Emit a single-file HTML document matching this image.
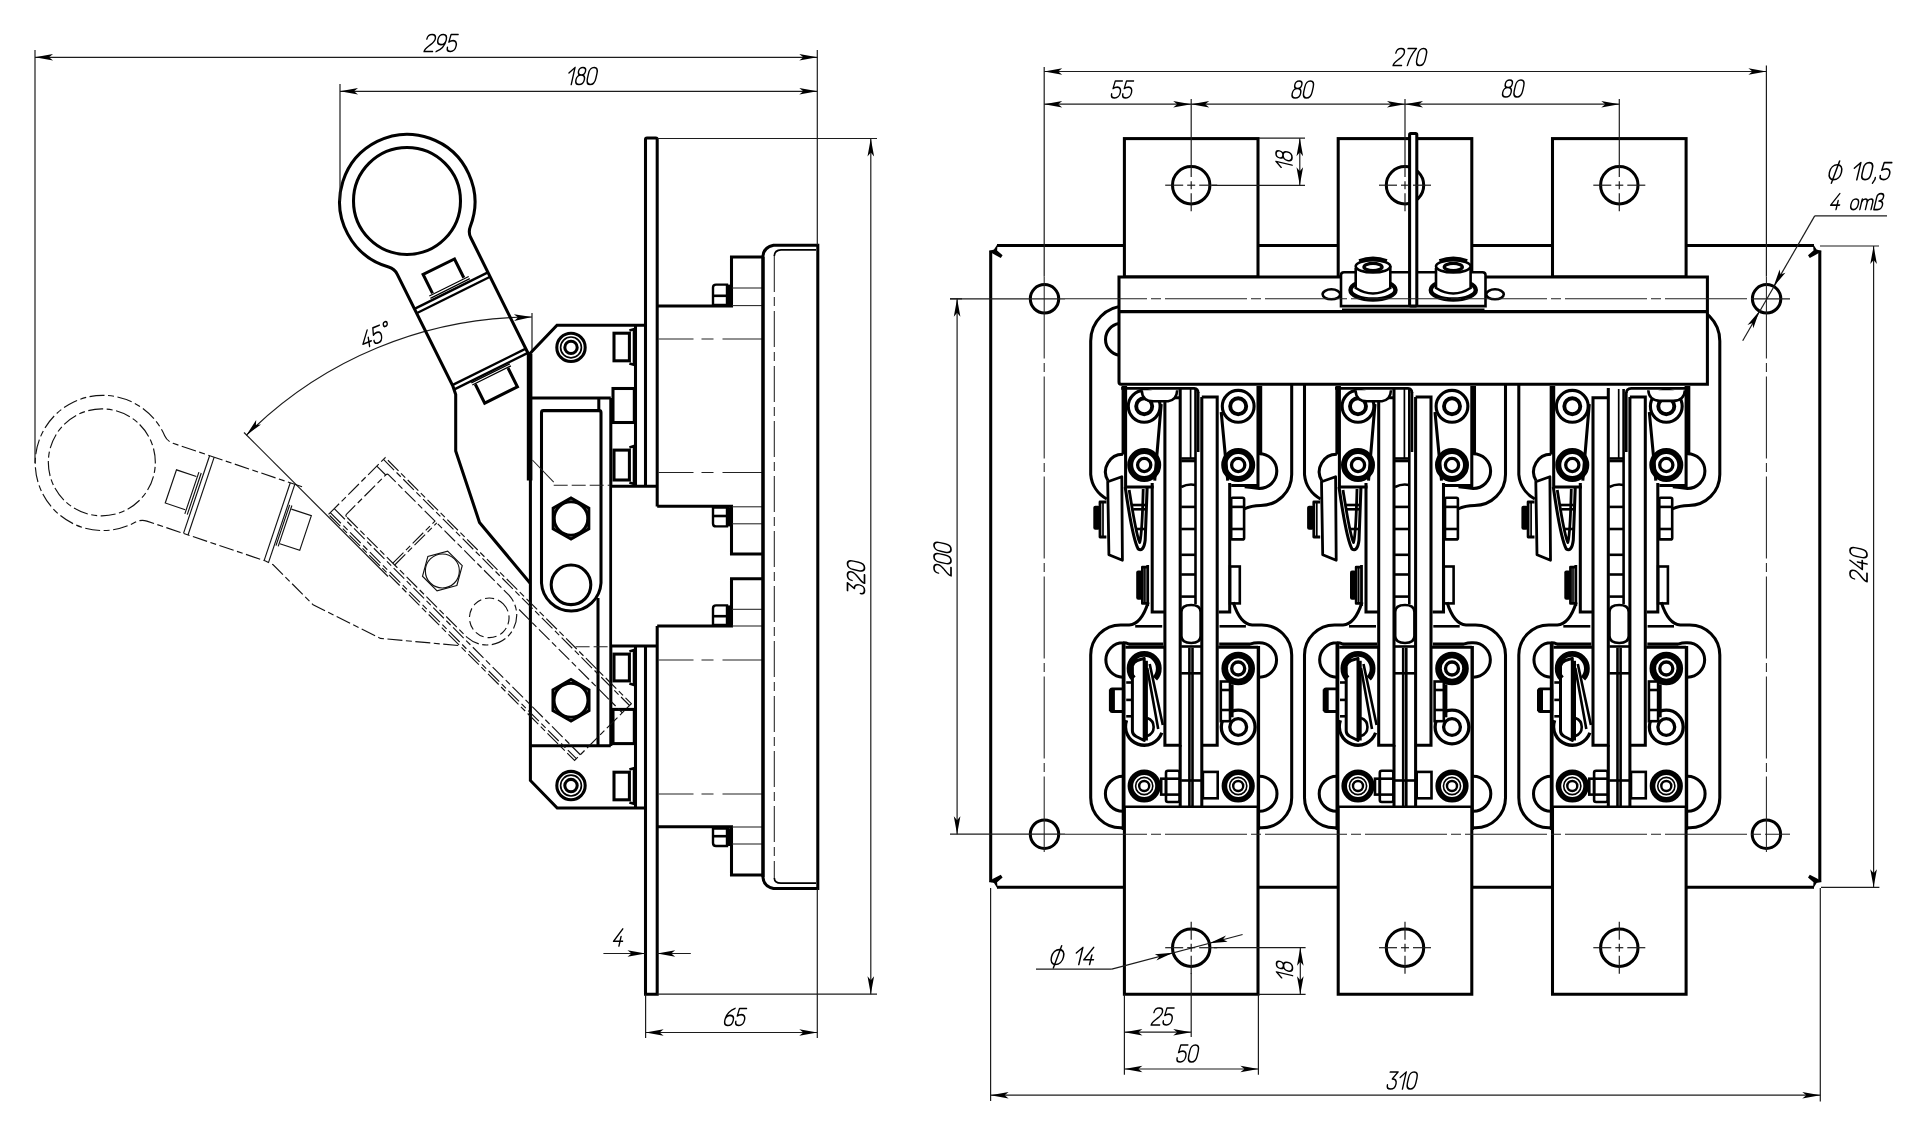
<!DOCTYPE html><html><head><meta charset="utf-8"><title>drawing</title><style>
html,body{margin:0;padding:0;background:#fff}body{width:1920px;height:1139px;font-family:"Liberation Sans",sans-serif}svg{display:block}.k{fill:none;stroke:#000;stroke-width:3.05;stroke-linejoin:miter;stroke-linecap:butt}.kf{fill:#fff;stroke:#000;stroke-width:3.05}.kk{fill:none;stroke:#000;stroke-width:6}.kkf{fill:#fff;stroke:#000;stroke-width:4.4}.kk2{fill:none;stroke:#000;stroke-width:3.4}.k2{fill:none;stroke:#000;stroke-width:2.8;stroke-linejoin:round}.k2f{fill:#fff;stroke:#000;stroke-width:2.6}.m{fill:none;stroke:#000;stroke-width:2.6}.m2{fill:none;stroke:#000;stroke-width:1.7}.k3{fill:none;stroke:#000;stroke-width:3.4;stroke-linejoin:round}.n{fill:none;stroke:#1c1c1c;stroke-width:1.2}.c{fill:none;stroke:#222;stroke-width:1.05}.a{fill:#000;stroke:none}.kf2{fill:#fff;stroke:#000;stroke-width:2.6}.wf{fill:#fff;stroke:none}.wf2{fill:#fff;stroke:none}.t{fill:none;stroke:#000;stroke-linecap:round;stroke-linejoin:round}.ph{fill:none;stroke:#111;stroke-width:1.15;stroke-dasharray:15 3.5 6 3.5}.w,.bh,.bd{stroke-dasharray:none}.w{stroke-width:var(--ww)}.bd{stroke-width:var(--bdw)}.ph{--ww:1.15;--bdw:1.15}.k{--ww:1.3;--bdw:2.3}.phs{fill:none;stroke:#111;stroke-width:1.15;stroke-dasharray:none}.ph2{fill:none;stroke:#111;stroke-width:1.15;stroke-dasharray:9 4}#pole path,#pole circle,#pole rect{}</style></head><body>
<svg width="1920" height="1139" viewBox="0 0 1920 1139">
<rect x="0" y="0" width="1920" height="1139" fill="#fff"/>
<defs><g id="mv">
<path d="M531.3 359.8L470.8 237.8A14 14 0 0 1 470.3 226.5A67.6 67.6 0 1 0 388.6 267A14 14 0 0 1 397.3 274.3L453 386.4L455.7 394.5L455.7 451L479.5 522.4L530 583"/>
<circle cx="407" cy="200.9" r="53.5"/>
<path class="bd" d="M414.5 308.9L487.9 272.4"/>
<path class="bd" d="M416.6 313.2L490.1 276.7"/>
<path class="bd" d="M452.3 385.1L525.8 348.6"/>
<path class="bd" d="M454.4 389.4L527.9 352.9"/>
<path class="bh" d="M432.5 293.4L423.1 274.5L454.5 259L463.8 277.8"/>
<path class="w" d="M429.3 296L468.7 276.5M430.4 298.3L469.8 278.7"/>
<path class="bh" d="M475.3 384.3L484.7 403.1L517.4 386.8L508 368"/>
<path class="w" d="M471.3 382.9L509.8 363.8M472.3 385L510.9 365.8"/>
</g>
<g id="mv2">
<path d="M530.5 398L610.8 398L610.8 746L530.5 746Z"/>
<path d="M541.5 412.5Q541.5 410.6 543.5 410.6L599 410.6Q601 410.6 601 412.5L601 583A29.8 29.8 0 0 1 541.5 583Z"/>
<path d="M598 600L598 746M598.8 398L598.8 410.6M608.2 398L608.2 746M533 398L533 746M538.6 398L538.6 746"/>
<path d="M541.5 478L601 478M541.5 480.6L601 480.6"/>
</g></defs>
<path class="n" d="M532 317A404 404 0 0 0 246.3 435.3"/>
<path class="a" d="M532 317L514.1 320.9L518 317.5L513.9 314.3Z"/>
<path class="a" d="M246.3 435.3L256.2 419.9L255.9 425.1L261 424.4Z"/>
<path class="n" d="M532 313L532 356"/>
<path class="n" d="M244 432.5L388 576.5"/>
<g class="t"  stroke-width="1" transform="translate(373 345) rotate(-22) scale(1.4 1.6) skewX(-15) translate(0 -10)"><path d="M4.6 0L0 7.2L6.4 7.2" transform="translate(-7.2 0)"/><path d="M4.6 4.4L4.6 10" transform="translate(-7.2 0)"/><path d="M5.6 0L0.6 0L0.2 4.4C1 3.8 2 3.6 3 3.6C4.8 3.6 6 4.9 6 6.8C6 8.7 4.8 10 3 10C1.2 10 0 9 0 7.6" transform="translate(1.2 0)"/></g>
<g class="t"  stroke-width="1" transform="translate(387.4 338) rotate(-22) scale(1.4 1.6) skewX(-15) translate(0 -10)"><path d="M1.5 0C.6 0 0 .6 0 1.4C0 2.2 .6 2.8 1.5 2.8C2.4 2.8 3 2.2 3 1.4C3 .6 2.4 0 1.5 0Z" transform="translate(-1.5 0)"/></g>
<g class="k"><use href="#mv"/></g>
<path class="wf" d="M529.5 354L557 325.3L644.6 325.3L644.6 808L557.2 808L530.4 780.5L530.4 354Z"/>
<path class="k" d="M644.6 325.3L557 325.3L529.5 354M530.4 354L530.4 780.5L557.2 808L644.6 808"/>
<path class="k" d="M529.6 353.7L529.6 480.5" style="stroke-width:5.6"/>
<path class="k" d="M532 398L610.8 398"/>
<path class="k" d="M610.8 398L610.8 746"/>
<path class="k" d="M530.4 745.8L610.8 745.8"/>
<path class="k" d="M541.5 412.5Q541.5 410.6 543.5 410.6L599 410.6Q601 410.6 601 412.5L601 583A29.8 29.8 0 0 1 541.5 583Z"/>
<path class="k" d="M598.8 398L598.8 410.6"/>
<path class="k" d="M598 598L598 745.8"/>
<circle class="k" cx="571" cy="347.4" r="14.2"/>
<circle class="m2" cx="571" cy="347.4" r="10.4"/>
<circle class="k" cx="571" cy="347.4" r="6.2"/>
<circle class="k" cx="571" cy="785.6" r="14.2"/>
<circle class="m2" cx="571" cy="785.6" r="10.4"/>
<circle class="k" cx="571" cy="785.6" r="6.2"/>
<path class="k" d="M571 539L553.2 528.8L553.2 508.2L571 498L588.8 508.2L588.8 528.8Z"/>
<circle class="k" cx="571" cy="518.5" r="16.8"/>
<circle class="k" cx="571" cy="584.8" r="19.8"/>
<path class="k" d="M571 721L553 710.6L553 689.8L571 679.4L589 689.8L589 710.6Z"/>
<circle class="k" cx="571" cy="700.2" r="17"/>
<path class="c" d="M532.4 460L553.7 482.1"/>
<path class="c" d="M553.7 485.3L610 485.3" stroke-dasharray="14 4"/>
<path class="c" d="M575.6 646.7L610 646.7" stroke-dasharray="14 4"/>
<rect class="wf" x="612.2" y="486.3" width="43.8" height="159.7"/>
<path class="k" d="M635.5 325.3L635.5 486.3"/>
<path class="k" d="M635.5 646L635.5 808"/>
<path class="k" d="M610.8 486.3L656.5 486.3"/>
<path class="k" d="M610.8 646L656.5 646"/>
<rect class="k" x="614" y="333.2" width="15.4" height="27.6"/>
<path class="m" d="M629.4 330.6L634 329.2L634 364.8L629.4 363.4"/>
<rect class="k" x="614" y="450.1" width="15.4" height="29.9"/>
<path class="m" d="M629.4 447.5L634 446.1L634 484L629.4 482.6"/>
<rect class="k" x="614" y="654.1" width="15.4" height="26.8"/>
<path class="m" d="M629.4 651.5L634 650.1L634 684.9L629.4 683.5"/>
<rect class="k" x="614" y="772.2" width="15.4" height="27.6"/>
<path class="m" d="M629.4 769.6L634 768.2L634 803.8L629.4 802.4"/>
<rect class="k" x="613" y="388.5" width="21.3" height="34"/>
<rect class="k" x="613" y="709.4" width="21.3" height="34.2"/>
<path class="k" d="M645.5 486.3L645.5 139.5Q645.5 138 647 138L655.7 138Q657.2 138 657.2 139.5L657.2 506.5"/>
<path class="k" d="M645.5 646L645.5 994.2L657.2 994.2L657.2 626"/>
<path class="k" d="M657.2 306L731.5 306L731.5 257L763 257"/>
<path class="k" d="M657.2 506.3L731.5 506.3L731.5 554L763 554"/>
<path class="k" d="M763 578.8L731.5 578.8L731.5 626L657.2 626"/>
<path class="k" d="M657.2 826.8L731.5 826.8L731.5 875L763 875"/>
<path class="c" d="M732 288L762.5 288"/>
<path class="c" d="M732 305.6L762.5 305.6"/>
<path class="c" d="M732 506.8L762.5 506.8"/>
<path class="c" d="M732 523.8L762.5 523.8"/>
<path class="c" d="M732 609.3L762.5 609.3"/>
<path class="c" d="M732 626L762.5 626"/>
<path class="c" d="M732 827L762.5 827"/>
<path class="c" d="M732 844L762.5 844"/>
<path class="k" d="M729.5 305L713 305L713 287.6Q713 284.6 716 284.6L727 284.6L727 305" style="stroke-width:2.4"/>
<path class="m" d="M713 295.8L727 295.8"/>
<path class="k" d="M729.3 284.6L729.3 305"/>
<path class="k" d="M729.5 507.5L713 507.5L713 523.4Q713 526.4 716 526.4L727 526.4L727 507.5" style="stroke-width:2.4"/>
<path class="m" d="M713 516L727 516"/>
<path class="k" d="M729.3 507.5L729.3 526.4"/>
<path class="k" d="M729.5 625L713 625L713 608.4Q713 605.4 716 605.4L727 605.4L727 625" style="stroke-width:2.4"/>
<path class="m" d="M713 616.2L727 616.2"/>
<path class="k" d="M729.3 605.4L729.3 625"/>
<path class="k" d="M729.5 828.5L713 828.5L713 843Q713 846 716 846L727 846L727 828.5" style="stroke-width:2.4"/>
<path class="m" d="M713 836.2L727 836.2"/>
<path class="k" d="M729.3 828.5L729.3 846"/>
<path class="c" d="M658.5 339L762 339" stroke-dasharray="35 8 12 9 60 0"/>
<path class="c" d="M658.5 472.4L762 472.4" stroke-dasharray="35 8 12 9 60 0"/>
<path class="c" d="M658.5 660L762 660" stroke-dasharray="35 8 12 9 60 0"/>
<path class="c" d="M658.5 794L762 794" stroke-dasharray="35 8 12 9 60 0"/>
<path class="k" d="M763 256Q763.5 247.5 773.5 245.2L817.8 245.2L817.8 888.5L773.5 888.5Q763.5 886 763 877.5Z"/>
<path class="m2" d="M774.3 256Q774.5 250 781 249.8L816 249.8"/>
<path class="m2" d="M774.3 878Q774.5 883.2 781 883.2L816 883.2"/>
<path class="c" d="M774.3 256L774.3 878" stroke-dasharray="36 5 9 5"/>
<path class="k" d="M763 257L763 877"/>
<g class="ph" transform="rotate(-45 570 700)"><use href="#mv"/><use href="#mv2"/>
<path class="phs" d="M571 539L553.2 528.8L553.2 508.2L571 498L588.8 508.2L588.8 528.8Z"/>
<circle class="phs" cx="571" cy="518.5" r="17"/>
<circle class="ph2" cx="571" cy="584.8" r="19.8"/>
</g>
<path class="n" d="M35 50L35 463"/>
<path class="n" d="M817.3 50L817.3 245"/>
<path class="n" d="M35 57.3L817.3 57.3"/>
<path class="a" d="M35 57.3L53 54L49 57.3L53 60.6Z"/>
<path class="a" d="M817.3 57.3L799.3 60.6L803.3 57.3L799.3 54Z"/>
<g class="t"  stroke-width="1" transform="translate(439.5 51.5) rotate(0) scale(1.4 1.7) skewX(-15) translate(0 -10)"><path d="M0 2.6C0 1 1.2 0 3 0C4.8 0 6 1 6 2.6C6 4.2 4.5 5.2 3 6.4C1.2 7.8 0 8.6 0 10L6 10" transform="translate(-11 0)"/><path d="M.6 10C4 8.8 6 6.4 6 3.2C6 1.2 4.8 0 3 0C1.2 0 0 1.2 0 3C0 4.8 1.2 6 3 6C4.6 6 5.8 5 6 3.4" transform="translate(-3 0)"/><path d="M5.6 0L0.6 0L0.2 4.4C1 3.8 2 3.6 3 3.6C4.8 3.6 6 4.9 6 6.8C6 8.7 4.8 10 3 10C1.2 10 0 9 0 7.6" transform="translate(5 0)"/></g>
<path class="n" d="M340 84L340 201"/>
<path class="n" d="M340 91.3L817.3 91.3"/>
<path class="a" d="M340 91.3L358 88L354 91.3L358 94.6Z"/>
<path class="a" d="M817.3 91.3L799.3 94.6L803.3 91.3L799.3 88Z"/>
<g class="t"  stroke-width="1" transform="translate(580.5 84.5) rotate(0) scale(1.4 1.7) skewX(-15) translate(0 -10)"><path d="M0 3.2L3.4 0L3.4 10" transform="translate(-10 0)"/><path d="M3 4.4C1.4 4.4 .5 3.4 .5 2.2C.5 1 1.4 0 3 0C4.6 0 5.5 1 5.5 2.2C5.5 3.4 4.6 4.4 3 4.4C1.2 4.4 0 5.5 0 7.2C0 8.9 1.2 10 3 10C4.8 10 6 8.9 6 7.2C6 5.5 4.8 4.4 3 4.4Z" transform="translate(-4 0)"/><path d="M3 0C0.8 0 0 1.8 0 3.5L0 6.5C0 8.2 .8 10 3 10C5.2 10 6 8.2 6 6.5L6 3.5C6 1.8 5.2 0 3 0Z" transform="translate(4 0)"/></g>
<path class="n" d="M657.2 138.5L877 138.5"/>
<path class="n" d="M657.2 994.2L877 994.2"/>
<path class="n" d="M870.8 138.5L870.8 994.2"/>
<path class="a" d="M870.8 138.5L874.1 156.5L870.8 152.5L867.5 156.5Z"/>
<path class="a" d="M870.8 994.2L867.5 976.2L870.8 980.2L874.1 976.2Z"/>
<g class="t"  stroke-width="1" transform="translate(864.5 579) rotate(-90) scale(1.4 1.7) skewX(-15) translate(0 -10)"><path d="M0 0L5.6 0L2.6 4C4.6 4 6 5.2 6 7C6 8.8 4.8 10 3 10C1.2 10 0 9 0 7.6" transform="translate(-11 0)"/><path d="M0 2.6C0 1 1.2 0 3 0C4.8 0 6 1 6 2.6C6 4.2 4.5 5.2 3 6.4C1.2 7.8 0 8.6 0 10L6 10" transform="translate(-3 0)"/><path d="M3 0C0.8 0 0 1.8 0 3.5L0 6.5C0 8.2 .8 10 3 10C5.2 10 6 8.2 6 6.5L6 3.5C6 1.8 5.2 0 3 0Z" transform="translate(5 0)"/></g>
<path class="n" d="M645.6 994.2L645.6 1038"/>
<path class="n" d="M817.3 888.5L817.3 1038"/>
<path class="n" d="M645.6 1032.5L817.3 1032.5"/>
<path class="a" d="M645.6 1032.5L663.6 1029.2L659.6 1032.5L663.6 1035.8Z"/>
<path class="a" d="M817.3 1032.5L799.3 1035.8L803.3 1032.5L799.3 1029.2Z"/>
<g class="t"  stroke-width="1" transform="translate(733.5 1025.5) rotate(0) scale(1.4 1.7) skewX(-15) translate(0 -10)"><path d="M5.4 0C2 1.2 0 3.6 0 6.8C0 8.8 1.2 10 3 10C4.8 10 6 8.8 6 7C6 5.2 4.8 4 3 4C1.4 4 0.2 5 0 6.6" transform="translate(-7 0)"/><path d="M5.6 0L0.6 0L0.2 4.4C1 3.8 2 3.6 3 3.6C4.8 3.6 6 4.9 6 6.8C6 8.7 4.8 10 3 10C1.2 10 0 9 0 7.6" transform="translate(1 0)"/></g>
<path class="n" d="M603.4 953.5L645.5 953.5"/>
<path class="n" d="M657.2 953.5L690.8 953.5"/>
<path class="a" d="M645.5 953.5L627.5 956.8L631.5 953.5L627.5 950.2Z"/>
<path class="a" d="M657.2 953.5L675.2 950.2L671.2 953.5L675.2 956.8Z"/>
<g class="t"  stroke-width="1" transform="translate(617 946) rotate(0) scale(1.4 1.7) skewX(-15) translate(0 -10)"><path d="M4.6 0L0 7.2L6.4 7.2" transform="translate(-3.2 0)"/><path d="M4.6 4.4L4.6 10" transform="translate(-3.2 0)"/></g>
<defs><g id="pole">
<path class="k" d="M-65.5 306A35 35 0 0 0 -100.5 341L-100.5 474.5A31 31 0 0 0 -84.5 499"/>
<path class="k" d="M65.5 306A35 35 0 0 1 100.5 341L100.5 474.5A31 31 0 0 1 69.5 505.5Q60 505.5 53 509"/>
<path class="k" d="M-68.1 386L-68.1 454.5M-65.6 386L-65.6 487L-37.5 487"/>
<path class="k" d="M66.8 386L66.8 485.5L40 485.5M69.5 386L69.5 455"/>
<path class="k" d="M-68.1 454.3A17.4 17.4 0 0 0 -83.3 480.5"/>
<path class="k" d="M68.2 453.7A17.4 17.4 0 0 1 68.2 488.5Q60 487.5 53.5 486.8"/>
<circle cx="-47" cy="406.3" r="15.9" fill="none" stroke="#000" stroke-width="3.1"/>
<circle cx="-47" cy="406.3" r="8" fill="none" stroke="#000" stroke-width="3.9"/>
<circle cx="-47" cy="465" r="14" fill="none" stroke="#000" stroke-width="6"/>
<circle cx="-47" cy="465" r="6.6" fill="none" stroke="#000" stroke-width="3.3"/>
<circle cx="47" cy="406.3" r="15.9" fill="none" stroke="#000" stroke-width="3.1"/>
<circle cx="47" cy="406.3" r="8" fill="none" stroke="#000" stroke-width="3.9"/>
<circle cx="47" cy="465" r="14" fill="none" stroke="#000" stroke-width="6"/>
<circle cx="47" cy="465" r="6.6" fill="none" stroke="#000" stroke-width="3.3"/>
<path class="k" d="M-30 404L-36.5 480.6M-39 482.9L-39 612L-27 612"/>
<path class="k" d="M30 412L36.5 480.6M38.5 482.9L38.5 612L27.5 612"/>
<path class="k" d="M-11 397.7L-26.3 397.7L-26.3 745.3L-11 745.3L-11 388"/>
<path class="k" d="M10.6 397L26 397L26 745.3L10.6 745.3"/>
<path class="k" d="M10.6 397L10.6 806.9M-11 745L-11 806.9"/>
<path class="m" d="M-10 458.5L4.3 458.5"/>
<path class="m" d="M-10 461L4.3 461"/>
<path class="m" d="M-10 506.9L4.3 506.9"/>
<path class="m" d="M-10 529L4.3 529"/>
<path class="m" d="M-10 554.8L4.3 554.8"/>
<path class="m" d="M-10 574.5L4.3 574.5"/>
<path class="m" d="M-10 596.6L4.3 596.6"/>
<path class="m" d="M4.3 389L4.3 604"/>
<path class="m" d="M7 392L7 452"/>
<path class="m2" d="M-0.6 389L-0.6 458"/>
<path class="m" d="M-10 487Q-3 483.5 4 485"/>
<path class="m" d="M-9.8 612Q-9.8 605 0 605Q9.4 605 9.4 612L9.4 636Q9.4 643 0 643Q-9.8 643 -9.8 636Z"/>
<path class="m" d="M-10 646.5L10 646.5"/>
<path class="m" d="M-10 673.3L10 673.3"/>
<path class="m" d="M-1.8 647.8L-1.8 806"/>
<path class="m" d="M1.3 647.8L1.3 806"/>
<path class="m" d="M-10 780.5L10 780.5"/>
<rect class="m" x="-25.2" y="770.7" width="13.6" height="31.3" rx="2"/>
<path class="m" d="M-25.2 778.7L-11.6 778.7"/>
<path class="m" d="M-25.2 794.6L-11.6 794.6"/>
<rect class="m" x="-30" y="778.7" width="4.8" height="15.9"/>
<rect class="m" x="11.7" y="771.9" width="14.8" height="26.4"/>
<rect class="m" x="40" y="497.7" width="12.9" height="41.7" rx="1.5"/>
<path class="m" d="M40 506.9L52.9 506.9"/>
<path class="m" d="M40 529L52.9 529"/>
<rect class="m" x="38.8" y="566.5" width="9.8" height="36.9"/>
<rect class="a" x="-97.9" y="505.8" width="6.7" height="24" rx="2"/>
<path class="k2" d="M-84.8 502L-91.2 502L-91.2 537L-84.8 537"/>
<path class="m2" d="M-88.2 502L-88.2 537"/>
<rect class="a" x="-55" y="570.5" width="6.2" height="29.3" rx="2"/>
<path class="k2" d="M-43.5 567.1L-48.8 567.1L-48.8 603.4L-43.5 603.4"/>
<path class="k2" d="M-43.5 565L-43.5 606"/>
<path class="m2" d="M-46.3 567.1L-46.3 603.4"/>
<path class="k2" d="M-83.5 481.7L-69.4 476.8L-68.8 560.3L-82.3 554.8Z"/>
<path class="k" d="M-66 487C-62 515 -58 540 -53 549C-50 551 -47 549 -46 540L-44 486"/>
<path class="k2" d="M-62 490C-58 515 -55 535 -51.5 542.5C-50 538 -48.5 510 -48 489"/>
<path class="m" d="M-59 505L-46 505"/>
<path class="m" d="M-58 509.3L-46 509.3"/>
<path class="m" d="M-55 529L-46 529"/>
<path class="k" d="M-43 602.3C-47 615 -53 624.5 -62 625L-70.5 625A30 30 0 0 0 -100.5 655L-100.5 797.8A30 30 0 0 0 -70.5 827.8L-68.3 827.8"/>
<path class="k" d="M42 602.3C46 615 52 624.5 61 625L70.5 625A30 30 0 0 1 100.5 655L100.5 797.8A30 30 0 0 1 70.5 827.8L68.3 827.8"/>
<path class="m" d="M-56 626.3L-29 626.3"/>
<path class="m" d="M28.3 626.3L54.7 626.3"/>
<path class="k" d="M-28 644.1L-62 644.1Q-66 642.5 -68 642.8A17.2 17.2 0 0 0 -68.3 677.2"/>
<path class="k" d="M28 644.1L58.5 644.1Q64 642.5 68 642.8A17.2 17.2 0 0 1 68.3 677.2"/>
<path class="k" d="M-65.8 647.2L-27 647.2"/>
<path class="k" d="M27 647.2L66.8 647.2"/>
<path class="k" d="M-67.6 644L-67.6 830" style="stroke-width:3.8"/>
<path class="k" d="M67.2 646L67.2 830" style="stroke-width:3.4"/>
<path class="k" d="M-66.8 806.9L66.8 806.9"/>
<path class="k" d="M-68.3 776.2A17.5 17.5 0 0 0 -68.3 811.2"/>
<path class="k" d="M68.3 776.2A17.5 17.5 0 0 1 68.3 811.2"/>
<circle cx="47" cy="668.5" r="13.5" fill="none" stroke="#000" stroke-width="6.6"/>
<circle cx="47" cy="668.5" r="6.5" fill="none" stroke="#000" stroke-width="3.3"/>
<path d="M-57.7 678.5A14.6 14.6 0 1 1 -36.3 678.5" fill="none" stroke="#000" stroke-width="5.8"/>
<circle cx="-47" cy="786" r="13.8" fill="none" stroke="#000" stroke-width="5.6"/>
<circle cx="-47" cy="786" r="8.6" fill="none" stroke="#000" stroke-width="1.6"/>
<circle cx="-47" cy="786" r="5" fill="none" stroke="#000" stroke-width="2.4"/>
<circle cx="47" cy="786" r="13.8" fill="none" stroke="#000" stroke-width="5.6"/>
<circle cx="47" cy="786" r="8.6" fill="none" stroke="#000" stroke-width="1.6"/>
<circle cx="47" cy="786" r="5" fill="none" stroke="#000" stroke-width="2.4"/>
<circle cx="47" cy="727" r="16.9" fill="none" stroke="#000" stroke-width="3.3"/>
<rect class="kf2" x="29.6" y="681.5" width="9.2" height="39.7"/>
<path class="kf2" d="M29.6 690L38.8 690"/>
<path class="kf2" d="M29.6 710L38.8 710"/>
<path class="k" d="M40.7 684.4L40.7 717.3" style="stroke-width:3.4"/>
<circle cx="47" cy="727" r="8.4" fill="none" stroke="#000" stroke-width="3.3"/>
<path class="k" d="M-58.8 666Q-58 662 -54 660.5L-47 658.4L-47 740.5L-55 736.5Q-58.8 734.5 -58.8 731Z" style="stroke-width:3;stroke-linejoin:round"/>
<path class="k" d="M-45.6 660.8L-45.6 740.5" style="stroke-width:4.6"/>
<path class="k" d="M-44 668L-33 729M-41.5 664L-28.4 725" style="stroke-width:2.6"/>
<path d="M-64.6 720.2A17 17 0 0 0 -29.4 732.8" fill="none" stroke="#000" stroke-width="3.3"/>
<path d="M-44 718A9.5 9.5 0 0 1 -44 736" fill="none" stroke="#000" stroke-width="2.6"/>
<rect class="k2" x="-80.5" y="688.8" width="13" height="22.7" rx="1.5"/>
<path class="kk" d="M-79.3 689.5L-79.3 711"/>
<path class="m" d="M-65 682.5L-59 682.5"/>
<path class="m" d="M-65 699.9L-59 699.9"/>
<path class="m" d="M-65 716.3L-59 716.3"/>
</g></defs>
<path class="k" d="M997 245.5L1814 245.5M1819.8 250.5L1819.8 882.3M1814 887.3L997 887.3M990.7 882.3L990.7 250.5"/>
<path class="a" d="M1813 244L1816.6 249.6L1821.5 251L1818 253.6L1809.8 258L1808 255.3L1813.5 250.5Z"/>
<path class="a" d="M997.6 244L994 249.6L989.1 251L992.6 253.6L1000.8 258L1002.6 255.3L997.1 250.5Z"/>
<path class="a" d="M997.6 888.7L994 883.1L989.1 881.7L992.6 879.1L1000.8 874.7L1002.6 877.4L997.1 882.2Z"/>
<path class="a" d="M1813 888.7L1816.6 883.1L1821.5 881.7L1818 879.1L1809.8 874.7L1808 877.4L1813.5 882.2Z"/>
<circle class="k" cx="1044.5" cy="298.8" r="14.2"/>
<circle class="k" cx="1766.6" cy="298.8" r="14.2"/>
<circle class="k" cx="1044.5" cy="834.2" r="14.2"/>
<circle class="k" cx="1766.4" cy="834.2" r="14.2"/>
<use href="#pole" transform="translate(1191.2 0)"/>
<use href="#pole" transform="translate(1405 0)"/>
<use href="#pole" transform="translate(1619.3 0)"/>
<rect class="kf" x="1124.4" y="138.6" width="133.6" height="138.4"/>
<circle class="k" cx="1191.2" cy="185.2" r="18.7"/>
<path class="kf" d="M1124.4 808L1124.4 994.3L1258 994.3L1258 808"/>
<circle class="k" cx="1191.2" cy="947.7" r="18.7"/>
<rect class="kf" x="1338.2" y="138.6" width="133.6" height="138.4"/>
<circle class="k" cx="1405" cy="185.2" r="18.7"/>
<path class="kf" d="M1338.2 808L1338.2 994.3L1471.8 994.3L1471.8 808"/>
<circle class="k" cx="1405" cy="947.7" r="18.7"/>
<rect class="kf" x="1552.5" y="138.6" width="133.6" height="138.4"/>
<circle class="k" cx="1619.3" cy="185.2" r="18.7"/>
<path class="kf" d="M1552.5 808L1552.5 994.3L1686.1 994.3L1686.1 808"/>
<circle class="k" cx="1619.3" cy="947.7" r="18.7"/>
<path class="kf" d="M1119 277L1707.4 277L1707.4 384.2L1121 384.2Q1119 384.2 1119 382Z"/>
<path class="k" d="M1119 311.6L1707.4 311.6"/>
<path class="m" d="M1121.2 388.4L1194.2 388.4Q1198.2 388.8 1198.2 393"/>
<path class="k2f" d="M1141.7 390.3Q1142.2 401.3 1153.2 401.3L1168.2 401.3Q1176.7 400 1177.2 390.3"/>
<path class="m" d="M1335 388.4L1408 388.4Q1412 388.8 1412 393"/>
<path class="k2f" d="M1355.5 390.3Q1356 401.3 1367 401.3L1382 401.3Q1390.5 400 1391 390.3"/>
<path class="m" d="M1689.3 388.4L1631.3 388.4Q1626.3 388.8 1626.3 393"/>
<path class="k2f" d="M1684.9 390.3Q1684.3 400.9 1673.3 400.9L1659.3 400.9Q1648.8 400 1648.3 390.3"/>
<path class="k" d="M1119 323.6A16 16 0 0 0 1119 355.2"/>
<path class="k2f" d="M1341 306.1L1341 275Q1341 272.2 1344 272.2L1482.5 272.2Q1485.5 272.2 1485.5 275L1485.5 306.1Z"/>
<path class="m" d="M1342 309.8L1484.5 309.8"/>
<ellipse class="kkf" cx="1373" cy="290" rx="22.5" ry="9.5"/>
<path class="k2f" d="M1355.7 268L1355.7 288Q1373 299 1390.3 288L1390.3 266"/>
<ellipse class="k2f" cx="1373" cy="266.3" rx="17.3" ry="6.2"/>
<ellipse class="kk2" cx="1373" cy="267" rx="9" ry="3.6"/>
<rect class="wf2" x="1370" y="265.8" width="6" height="2.4"/>
<path class="k2" d="M1359 260.5Q1373 255.5 1387 260.5"/>
<ellipse class="kkf" cx="1453.3" cy="290" rx="22.5" ry="9.5"/>
<path class="k2f" d="M1436 268L1436 288Q1453.3 299 1470.6 288L1470.6 266"/>
<ellipse class="k2f" cx="1453.3" cy="266.3" rx="17.3" ry="6.2"/>
<ellipse class="kk2" cx="1453.3" cy="267" rx="9" ry="3.6"/>
<rect class="wf2" x="1450.3" y="265.8" width="6" height="2.4"/>
<path class="k2" d="M1439.3 260.5Q1453.3 255.5 1467.3 260.5"/>
<ellipse class="k2f" cx="1331.4" cy="294.3" rx="8.8" ry="5"/>
<ellipse class="k2f" cx="1495" cy="294.3" rx="8.8" ry="5"/>
<rect class="kf" x="1409.6" y="133.5" width="7.2" height="172.5" rx="1.2"/>
<path class="n" d="M950 298.8L1065 298.8"/>
<path class="c" d="M1065 298.8L1752 298.8" stroke-dasharray="82 4 10 4"/>
<path class="n" d="M1752 298.8L1790 298.8"/>
<path class="n" d="M950 834.2L1065 834.2"/>
<path class="c" d="M1065 834.2L1790 834.2" stroke-dasharray="82 4 10 4"/>
<path class="n" d="M1044.2 66.9L1044.2 276.5"/>
<path class="c" d="M1044.2 276.5L1044.2 852" stroke-dasharray="82 4.5 9 4.5"/>
<path class="n" d="M1766.4 65.4L1766.4 276.5"/>
<path class="c" d="M1766.4 276.5L1766.4 852" stroke-dasharray="82 4.5 9 4.5"/>
<path class="n" d="M1165.2 185.2L1183.2 185.2"/>
<path class="n" d="M1187.2 185.2L1195.2 185.2"/>
<path class="n" d="M1199.2 185.2L1217.2 185.2"/>
<path class="n" d="M1191.2 181.2L1191.2 189.2"/>
<path class="n" d="M1191.2 193.2L1191.2 211.2"/>
<path class="n" d="M1165.2 947.7L1183.2 947.7"/>
<path class="n" d="M1187.2 947.7L1195.2 947.7"/>
<path class="n" d="M1199.2 947.7L1217.2 947.7"/>
<path class="n" d="M1191.2 943.7L1191.2 951.7"/>
<path class="n" d="M1191.2 955.7L1191.2 973.7"/>
<path class="n" d="M1191.2 921.7L1191.2 939.7"/>
<path class="n" d="M1379 185.2L1397 185.2"/>
<path class="n" d="M1401 185.2L1409 185.2"/>
<path class="n" d="M1413 185.2L1431 185.2"/>
<path class="n" d="M1405 181.2L1405 189.2"/>
<path class="n" d="M1405 193.2L1405 211.2"/>
<path class="n" d="M1379 947.7L1397 947.7"/>
<path class="n" d="M1401 947.7L1409 947.7"/>
<path class="n" d="M1413 947.7L1431 947.7"/>
<path class="n" d="M1405 943.7L1405 951.7"/>
<path class="n" d="M1405 955.7L1405 973.7"/>
<path class="n" d="M1405 921.7L1405 939.7"/>
<path class="n" d="M1593.3 185.2L1611.3 185.2"/>
<path class="n" d="M1615.3 185.2L1623.3 185.2"/>
<path class="n" d="M1627.3 185.2L1645.3 185.2"/>
<path class="n" d="M1619.3 181.2L1619.3 189.2"/>
<path class="n" d="M1619.3 193.2L1619.3 211.2"/>
<path class="n" d="M1593.3 947.7L1611.3 947.7"/>
<path class="n" d="M1615.3 947.7L1623.3 947.7"/>
<path class="n" d="M1627.3 947.7L1645.3 947.7"/>
<path class="n" d="M1619.3 943.7L1619.3 951.7"/>
<path class="n" d="M1619.3 955.7L1619.3 973.7"/>
<path class="n" d="M1619.3 921.7L1619.3 939.7"/>
<path class="n" d="M1191.2 99L1191.2 177"/>
<path class="n" d="M1405 99L1405 177"/>
<path class="n" d="M1619.3 99L1619.3 177"/>
<path class="n" d="M1044.2 71.5L1766.4 71.5"/>
<path class="a" d="M1044.2 71.5L1062.2 68.2L1058.2 71.5L1062.2 74.8Z"/>
<path class="a" d="M1766.4 71.5L1748.4 74.8L1752.4 71.5L1748.4 68.2Z"/>
<g class="t"  stroke-width="1" transform="translate(1408.5 65.5) rotate(0) scale(1.4 1.7) skewX(-15) translate(0 -10)"><path d="M0 2.6C0 1 1.2 0 3 0C4.8 0 6 1 6 2.6C6 4.2 4.5 5.2 3 6.4C1.2 7.8 0 8.6 0 10L6 10" transform="translate(-11 0)"/><path d="M0 0L6 0C3.6 3.2 2.4 6.4 2.2 10" transform="translate(-3 0)"/><path d="M3 0C0.8 0 0 1.8 0 3.5L0 6.5C0 8.2 .8 10 3 10C5.2 10 6 8.2 6 6.5L6 3.5C6 1.8 5.2 0 3 0Z" transform="translate(5 0)"/></g>
<path class="n" d="M1044.2 104.2L1191.2 104.2"/>
<path class="a" d="M1044.2 104.2L1062.2 100.9L1058.2 104.2L1062.2 107.5Z"/>
<path class="a" d="M1191.2 104.2L1173.2 107.5L1177.2 104.2L1173.2 100.9Z"/>
<g class="t"  stroke-width="1" transform="translate(1120.5 98) rotate(0) scale(1.4 1.7) skewX(-15) translate(0 -10)"><path d="M5.6 0L0.6 0L0.2 4.4C1 3.8 2 3.6 3 3.6C4.8 3.6 6 4.9 6 6.8C6 8.7 4.8 10 3 10C1.2 10 0 9 0 7.6" transform="translate(-7 0)"/><path d="M5.6 0L0.6 0L0.2 4.4C1 3.8 2 3.6 3 3.6C4.8 3.6 6 4.9 6 6.8C6 8.7 4.8 10 3 10C1.2 10 0 9 0 7.6" transform="translate(1 0)"/></g>
<path class="n" d="M1191.2 104.2L1405 104.2"/>
<path class="a" d="M1191.2 104.2L1209.2 100.9L1205.2 104.2L1209.2 107.5Z"/>
<path class="a" d="M1405 104.2L1387 107.5L1391 104.2L1387 100.9Z"/>
<g class="t"  stroke-width="1" transform="translate(1301 98) rotate(0) scale(1.4 1.7) skewX(-15) translate(0 -10)"><path d="M3 4.4C1.4 4.4 .5 3.4 .5 2.2C.5 1 1.4 0 3 0C4.6 0 5.5 1 5.5 2.2C5.5 3.4 4.6 4.4 3 4.4C1.2 4.4 0 5.5 0 7.2C0 8.9 1.2 10 3 10C4.8 10 6 8.9 6 7.2C6 5.5 4.8 4.4 3 4.4Z" transform="translate(-7 0)"/><path d="M3 0C0.8 0 0 1.8 0 3.5L0 6.5C0 8.2 .8 10 3 10C5.2 10 6 8.2 6 6.5L6 3.5C6 1.8 5.2 0 3 0Z" transform="translate(1 0)"/></g>
<path class="n" d="M1405 104.2L1619.3 104.2"/>
<path class="a" d="M1405 104.2L1423 100.9L1419 104.2L1423 107.5Z"/>
<path class="a" d="M1619.3 104.2L1601.3 107.5L1605.3 104.2L1601.3 100.9Z"/>
<g class="t"  stroke-width="1" transform="translate(1511.5 97) rotate(0) scale(1.4 1.7) skewX(-15) translate(0 -10)"><path d="M3 4.4C1.4 4.4 .5 3.4 .5 2.2C.5 1 1.4 0 3 0C4.6 0 5.5 1 5.5 2.2C5.5 3.4 4.6 4.4 3 4.4C1.2 4.4 0 5.5 0 7.2C0 8.9 1.2 10 3 10C4.8 10 6 8.9 6 7.2C6 5.5 4.8 4.4 3 4.4Z" transform="translate(-7 0)"/><path d="M3 0C0.8 0 0 1.8 0 3.5L0 6.5C0 8.2 .8 10 3 10C5.2 10 6 8.2 6 6.5L6 3.5C6 1.8 5.2 0 3 0Z" transform="translate(1 0)"/></g>
<path class="n" d="M1259 138.2L1305 138.2"/>
<path class="n" d="M1212 185.3L1305 185.3"/>
<path class="n" d="M1299.8 138.2L1299.8 185.3"/>
<path class="a" d="M1299.8 138.2L1303.1 156.2L1299.8 152.2L1296.5 156.2Z"/>
<path class="a" d="M1299.8 185.3L1296.5 167.3L1299.8 171.3L1303.1 167.3Z"/>
<g class="t"  stroke-width="1" transform="translate(1292 161.5) rotate(-90) scale(1.4 1.6) skewX(-15) translate(0 -10)"><path d="M0 3.2L3.4 0L3.4 10" transform="translate(-6 0)"/><path d="M3 4.4C1.4 4.4 .5 3.4 .5 2.2C.5 1 1.4 0 3 0C4.6 0 5.5 1 5.5 2.2C5.5 3.4 4.6 4.4 3 4.4C1.2 4.4 0 5.5 0 7.2C0 8.9 1.2 10 3 10C4.8 10 6 8.9 6 7.2C6 5.5 4.8 4.4 3 4.4Z" transform="translate(0 0)"/></g>
<path class="n" d="M1214 947.7L1305.6 947.7"/>
<path class="n" d="M1258.4 994.3L1305.6 994.3"/>
<path class="n" d="M1300.3 947.7L1300.3 994.3"/>
<path class="a" d="M1300.3 947.7L1303.6 965.7L1300.3 961.7L1297 965.7Z"/>
<path class="a" d="M1300.3 994.3L1297 976.3L1300.3 980.3L1303.6 976.3Z"/>
<g class="t"  stroke-width="1" transform="translate(1292.5 972) rotate(-90) scale(1.4 1.6) skewX(-15) translate(0 -10)"><path d="M0 3.2L3.4 0L3.4 10" transform="translate(-6 0)"/><path d="M3 4.4C1.4 4.4 .5 3.4 .5 2.2C.5 1 1.4 0 3 0C4.6 0 5.5 1 5.5 2.2C5.5 3.4 4.6 4.4 3 4.4C1.2 4.4 0 5.5 0 7.2C0 8.9 1.2 10 3 10C4.8 10 6 8.9 6 7.2C6 5.5 4.8 4.4 3 4.4Z" transform="translate(0 0)"/></g>
<path class="n" d="M950 298.8L962 298.8"/>
<path class="n" d="M957.1 298.8L957.1 834.2"/>
<path class="a" d="M957.1 298.8L960.4 316.8L957.1 312.8L953.8 316.8Z"/>
<path class="a" d="M957.1 834.2L953.8 816.2L957.1 820.2L960.4 816.2Z"/>
<g class="t"  stroke-width="1" transform="translate(951 560.5) rotate(-90) scale(1.4 1.7) skewX(-15) translate(0 -10)"><path d="M0 2.6C0 1 1.2 0 3 0C4.8 0 6 1 6 2.6C6 4.2 4.5 5.2 3 6.4C1.2 7.8 0 8.6 0 10L6 10" transform="translate(-11 0)"/><path d="M3 0C0.8 0 0 1.8 0 3.5L0 6.5C0 8.2 .8 10 3 10C5.2 10 6 8.2 6 6.5L6 3.5C6 1.8 5.2 0 3 0Z" transform="translate(-3 0)"/><path d="M3 0C0.8 0 0 1.8 0 3.5L0 6.5C0 8.2 .8 10 3 10C5.2 10 6 8.2 6 6.5L6 3.5C6 1.8 5.2 0 3 0Z" transform="translate(5 0)"/></g>
<path class="n" d="M1820 246L1879 246"/>
<path class="n" d="M1821 887.3L1879.4 887.3"/>
<path class="n" d="M1873.6 246L1873.6 887.3"/>
<path class="a" d="M1873.6 246L1876.9 264L1873.6 260L1870.3 264Z"/>
<path class="a" d="M1873.6 887.3L1870.3 869.3L1873.6 873.3L1876.9 869.3Z"/>
<g class="t"  stroke-width="1" transform="translate(1867 566) rotate(-90) scale(1.4 1.7) skewX(-15) translate(0 -10)"><path d="M0 2.6C0 1 1.2 0 3 0C4.8 0 6 1 6 2.6C6 4.2 4.5 5.2 3 6.4C1.2 7.8 0 8.6 0 10L6 10" transform="translate(-11.2 0)"/><path d="M4.6 0L0 7.2L6.4 7.2" transform="translate(-3.2 0)"/><path d="M4.6 4.4L4.6 10" transform="translate(-3.2 0)"/><path d="M3 0C0.8 0 0 1.8 0 3.5L0 6.5C0 8.2 .8 10 3 10C5.2 10 6 8.2 6 6.5L6 3.5C6 1.8 5.2 0 3 0Z" transform="translate(5.2 0)"/></g>
<path class="n" d="M1124.4 994.3L1124.4 1074.7"/>
<path class="n" d="M1258.4 994.3L1258.4 1074.7"/>
<path class="n" d="M1191.2 973L1191.2 1037"/>
<path class="n" d="M1124.4 1032.2L1191.2 1032.2"/>
<path class="a" d="M1124.4 1032.2L1142.4 1028.9L1138.4 1032.2L1142.4 1035.5Z"/>
<path class="a" d="M1191.2 1032.2L1173.2 1035.5L1177.2 1032.2L1173.2 1028.9Z"/>
<g class="t"  stroke-width="1" transform="translate(1161 1025) rotate(0) scale(1.4 1.7) skewX(-15) translate(0 -10)"><path d="M0 2.6C0 1 1.2 0 3 0C4.8 0 6 1 6 2.6C6 4.2 4.5 5.2 3 6.4C1.2 7.8 0 8.6 0 10L6 10" transform="translate(-7 0)"/><path d="M5.6 0L0.6 0L0.2 4.4C1 3.8 2 3.6 3 3.6C4.8 3.6 6 4.9 6 6.8C6 8.7 4.8 10 3 10C1.2 10 0 9 0 7.6" transform="translate(1 0)"/></g>
<path class="n" d="M1124.4 1069L1258.4 1069"/>
<path class="a" d="M1124.4 1069L1142.4 1065.7L1138.4 1069L1142.4 1072.3Z"/>
<path class="a" d="M1258.4 1069L1240.4 1072.3L1244.4 1069L1240.4 1065.7Z"/>
<g class="t"  stroke-width="1" transform="translate(1186 1062) rotate(0) scale(1.4 1.7) skewX(-15) translate(0 -10)"><path d="M5.6 0L0.6 0L0.2 4.4C1 3.8 2 3.6 3 3.6C4.8 3.6 6 4.9 6 6.8C6 8.7 4.8 10 3 10C1.2 10 0 9 0 7.6" transform="translate(-7 0)"/><path d="M3 0C0.8 0 0 1.8 0 3.5L0 6.5C0 8.2 .8 10 3 10C5.2 10 6 8.2 6 6.5L6 3.5C6 1.8 5.2 0 3 0Z" transform="translate(1 0)"/></g>
<path class="n" d="M990.6 888L990.6 1101"/>
<path class="n" d="M1820.3 888L1820.3 1101.5"/>
<path class="n" d="M990.6 1095.2L1820.3 1095.2"/>
<path class="a" d="M990.6 1095.2L1008.6 1091.9L1004.6 1095.2L1008.6 1098.5Z"/>
<path class="a" d="M1820.3 1095.2L1802.3 1098.5L1806.3 1095.2L1802.3 1091.9Z"/>
<g class="t"  stroke-width="1" transform="translate(1400.5 1089) rotate(0) scale(1.4 1.7) skewX(-15) translate(0 -10)"><path d="M0 0L5.6 0L2.6 4C4.6 4 6 5.2 6 7C6 8.8 4.8 10 3 10C1.2 10 0 9 0 7.6" transform="translate(-10 0)"/><path d="M0 3.2L3.4 0L3.4 10" transform="translate(-2 0)"/><path d="M3 0C0.8 0 0 1.8 0 3.5L0 6.5C0 8.2 .8 10 3 10C5.2 10 6 8.2 6 6.5L6 3.5C6 1.8 5.2 0 3 0Z" transform="translate(4 0)"/></g>
<path class="n" d="M1036 969.1L1111.8 969.1"/>
<path class="n" d="M1111.8 969.1L1242.6 934.5"/>
<path class="a" d="M1173 952.8L1156.4 960.6L1159.5 956.4L1154.8 954.2Z"/>
<path class="a" d="M1209.4 943.2L1226 935.4L1222.9 939.6L1227.6 941.8Z"/>
<g class="t"  stroke-width="1" transform="translate(1071 964.5) rotate(0) scale(1.5 1.7) skewX(-15) translate(0 -10)"><path d="M4 1.2C1.6 1.2 0 3 0 5.6C0 8.2 1.6 10 4 10C6.4 10 8 8.2 8 5.6C8 3 6.4 1.2 4 1.2Z" transform="translate(-14.2 0)"/><path d="M5 -1L3 12" transform="translate(-14.2 0)"/><path d="M0 3.2L3.4 0L3.4 10" transform="translate(1.8 0)"/><path d="M4.6 0L0 7.2L6.4 7.2" transform="translate(7.8 0)"/><path d="M4.6 4.4L4.6 10" transform="translate(7.8 0)"/></g>
<path class="n" d="M1814.7 215.9L1887 215.9"/>
<path class="n" d="M1814.7 215.9L1742.7 340.8"/>
<path class="a" d="M1773.5 286.7L1779.6 269.5L1780.5 274.6L1785.4 272.8Z"/>
<path class="a" d="M1759.4 311L1753.3 328.2L1752.4 323.1L1747.5 324.9Z"/>
<g class="t"  stroke-width="1" transform="translate(1858 179.7) rotate(0) scale(1.5 1.7) skewX(-15) translate(0 -10)"><path d="M4 1.2C1.6 1.2 0 3 0 5.6C0 8.2 1.6 10 4 10C6.4 10 8 8.2 8 5.6C8 3 6.4 1.2 4 1.2Z" transform="translate(-20.2 0)"/><path d="M5 -1L3 12" transform="translate(-20.2 0)"/><path d="M0 3.2L3.4 0L3.4 10" transform="translate(-4.2 0)"/><path d="M3 0C0.8 0 0 1.8 0 3.5L0 6.5C0 8.2 .8 10 3 10C5.2 10 6 8.2 6 6.5L6 3.5C6 1.8 5.2 0 3 0Z" transform="translate(1.8 0)"/><path d="M1.4 8.8L1.4 10L.4 12" transform="translate(9.8 0)"/><path d="M5.6 0L0.6 0L0.2 4.4C1 3.8 2 3.6 3 3.6C4.8 3.6 6 4.9 6 6.8C6 8.7 4.8 10 3 10C1.2 10 0 9 0 7.6" transform="translate(14.2 0)"/></g>
<g class="t"  stroke-width="1" transform="translate(1855.5 209.6) rotate(0) scale(1.4 1.6) skewX(-15) translate(0 -10)"><path d="M4.6 0L0 7.2L6.4 7.2" transform="translate(-18.5 0)"/><path d="M4.6 4.4L4.6 10" transform="translate(-18.5 0)"/><path d="M2.6 3.4C.8 3.4 0 4.8 0 6.7C0 8.6 .8 10 2.6 10C4.4 10 5.2 8.6 5.2 6.7C5.2 4.8 4.4 3.4 2.6 3.4Z" transform="translate(-4.1 0)"/><path d="M0 3.4L0 10" transform="translate(3.1 0)"/><path d="M0 5C.4 4 1.2 3.4 2.2 3.4C3.4 3.4 4 4.2 4 5.4L4 10" transform="translate(3.1 0)"/><path d="M4 5C4.4 4 5.2 3.4 6.2 3.4C7.4 3.4 8 4.2 8 5.4L8 10" transform="translate(3.1 0)"/><path d="M0 10L0 2.4C0 .8 1 0 2.4 0C3.8 0 4.8 .8 4.8 2.2C4.8 3.6 3.8 4.6 2.2 4.6C4 4.6 5.4 5.6 5.4 7.3C5.4 9 4.2 10 2.6 10Z" transform="translate(13.1 0)"/></g>
</svg></body></html>
